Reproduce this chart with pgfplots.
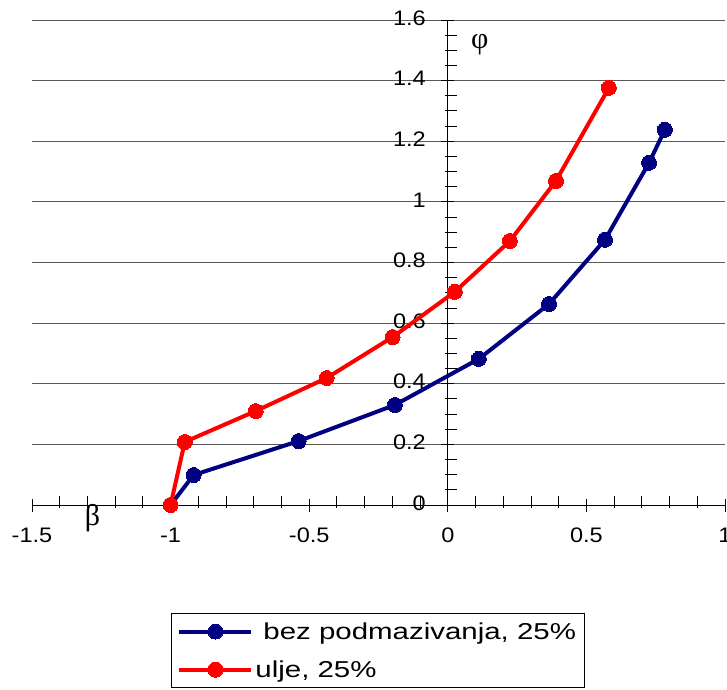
\documentclass[border=0pt]{standalone}
\usepackage{pgfplots}
\pgfplotsset{compat=1.18}
\usepackage{fontspec}
\setmainfont{Liberation Sans}
\newfontfamily\greekfont{Liberation Serif}
\newfontfamily\legfont[FakeStretch=1.28]{Liberation Sans}
\newfontfamily\tickfont[FakeStretch=1.12]{Liberation Sans}
\definecolor{navyb}{RGB}{0,0,128}
\definecolor{redl}{RGB}{255,0,0}

\begin{document}
\begin{tikzpicture}[x=1pt,y=1pt]
\useasboundingbox (-32,-184) rectangle (695,505);
\begin{axis}[at={(0,0)}, anchor=south west, scale only axis,
  width=693pt, height=485pt,
  xmin=-1.5, xmax=1, ymin=0, ymax=1.6,
  axis x line=middle, axis y line=middle,
  axis line style={-, black, line width=0.9pt},
  hide obscured x ticks=false, hide obscured y ticks=false,
  xtick={-1.5,-1,-0.5,0,0.5,1},
  xticklabels={-1.5,-1,-0.5,0,0.5,1},
  ytick={0,0.2,0.4,0.6,0.8,1,1.2,1.4,1.6},
  yticklabels={0,0.2,0.4,0.6,0.8,1,1.2,1.4,1.6},
  minor x tick num=4, minor y tick num=3,
  tick align=center, major tick length=13pt, minor tick length=12pt,
  minor x tick style={yshift=3pt},
  minor y tick style={xshift=3.5pt},
  tick style={black, line width=0.9pt},
  ymajorgrids, grid style={black!65, line width=0.9pt},
  ticklabel style={font=\tickfont\fontsize{21}{25}\selectfont},
  xticklabel style={anchor=north, yshift=-13pt},
  yticklabel style={anchor=east, xshift=-12pt, yshift=2pt},
  clip=false,
  legend style={at={(0.2006,-0.2227)}, anchor=north west, draw=black,
    line width=0.9pt, font=\legfont\fontsize{23}{27}\selectfont,
    inner xsep=6pt, inner ysep=7pt, row sep=16pt},
  legend cell align=left,
  legend image code/.code={\draw[mark repeat=2,mark phase=2] plot coordinates {(0pt,0pt) (36pt,0pt) (72pt,0pt)};},
]
\addplot[navyb, line width=4pt, mark=*, mark size=7.5pt, mark options={solid, fill=navyb, line width=0pt}]
coordinates {(-1,0) (-0.917,0.099) (-0.538,0.211) (-0.191,0.330) (0.112,0.482) (0.365,0.663) (0.567,0.875) (0.726,1.129) (0.783,1.238)};
\addlegendentry{\hspace{8pt}bez podmazivanja, 25\%}
\addplot[redl, line width=4pt, mark=*, mark size=7.5pt, mark options={solid, fill=redl, line width=0pt}]
coordinates {(-1,0) (-0.949,0.208) (-0.693,0.310) (-0.437,0.419) (-0.199,0.554) (0.025,0.703) (0.224,0.871) (0.390,1.069) (0.581,1.376)};
\addlegendentry{ulje, 25\%}
\node[font=\greekfont\fontsize{30}{32}\selectfont] at (axis cs:0.1155,1.518) {φ};
\node[font=\greekfont\fontsize{30}{32}\selectfont] at (axis cs:-1.282,-0.043) {β};
\end{axis}
\end{tikzpicture}
\end{document}
